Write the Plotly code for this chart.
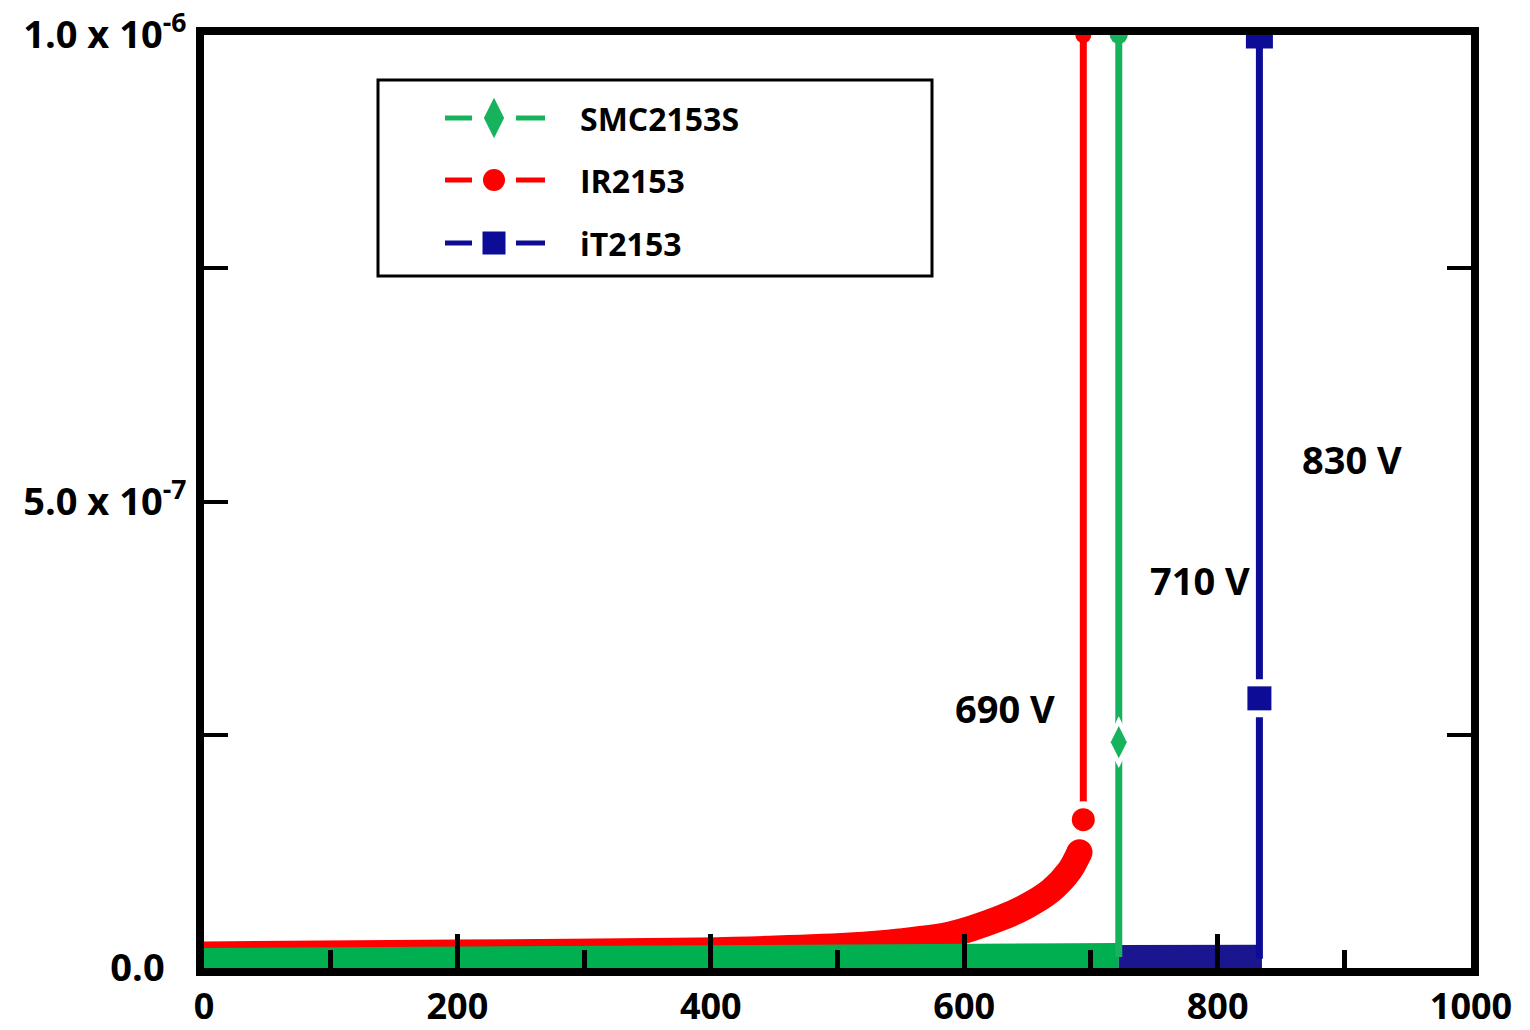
import plotly.graph_objects as go

# ---------------- data ----------------
# IR2153: leakage curve before breakdown
ir_v = [0, 200, 391, 510, 549, 589, 628, 648, 668, 683, 691]
ir_i = [1.45e-8, 1.65e-8, 1.88e-8, 2.41e-8, 2.84e-8, 3.59e-8, 5.31e-8, 6.54e-8, 8.25e-8, 1.04e-7, 1.24e-7]
# IR2153: breakdown branch
ir_bd_v = [694, 694]
ir_bd_i = [1.59e-7, 1.0e-6]

# SMC2153S
smc_v = [0, 200, 400, 600, 722]
smc_i = [0.65e-8, 0.8e-8, 0.96e-8, 1.1e-8, 1.18e-8]
smc_bd_v = [722, 722, 722]
smc_bd_i = [1.18e-8, 2.42e-7, 1.0e-6]

# iT2153
it_v = [722, 835]
it_i = [0.96e-8, 1.0e-8]
it_bd_v = [833, 833, 833]
it_bd_i = [1.0e-8, 2.89e-7, 1.0e-6]

series_names = ["SMC2153S", "IR2153", "iT2153"]
breakdown_labels = ["690 V", "710 V", "830 V"]

x_tickvals = [0, 200, 400, 600, 800, 1000]
x_ticktext = ["0", "200", "400", "600", "800", "1000"]
y_tickvals = [0, 5e-7, 1e-6]
y_ticktext = ["0.0\u2007", "5.0 x 10<sup>-7</sup>", "1.0 x 10<sup>-6</sup>"]
y_minor_tickvals = [2.5e-7, 7.5e-7]

# ---------------- style / layout constants ----------------
W, H = 1530, 1030
ML, MR, MT, MB = 204, 59, 35, 62
RED = "#ff0000"
GREEN = "#00b050"
GREEN_V = "#16b25c"
BLUE = "#0c0c96"
BLUE_BAND = "#1a1690"
FONT = "Open Sans"

label_pos = [(632, 2.79e-7), (786, 4.16e-7), (906, 5.46e-7)]

fig = go.Figure()

def skip(**kw):
    kw.setdefault("showlegend", False)
    kw.setdefault("hoverinfo", "skip")
    return kw

# bands (thick leakage traces)
fig.add_trace(go.Scatter(**skip(
    x=ir_v, y=ir_i, mode="lines",
    line=dict(color=RED, width=26, shape="spline", smoothing=0.8))))
fig.add_trace(go.Scatter(**skip(
    x=ir_v[-1:], y=ir_i[-1:], mode="markers",
    marker=dict(color=RED, size=26, opacity=1, line=dict(width=0)))))
fig.add_trace(go.Scatter(**skip(
    x=smc_v, y=smc_i, mode="lines",
    line=dict(color=GREEN, width=28))))
fig.add_trace(go.Scatter(**skip(
    x=it_v, y=it_i, mode="lines",
    line=dict(color=BLUE_BAND, width=28))))

# breakdown branches: line, then white halo, then marker
branches = [
    (ir_bd_v, ir_bd_i, RED, "circle", 23, 37, 16, 0),
    (smc_bd_v, smc_bd_i, GREEN_V, "diamond-tall", 23, 37, 18, 1),
    (it_bd_v, it_bd_i, BLUE, "square", 24, 38, 27, 1),
]
for bx, by, col, sym, msize, hsize, tsize, k in branches:
    fig.add_trace(go.Scatter(**skip(x=bx, y=by, mode="lines", line=dict(color=col, width=7))))
    fig.add_trace(go.Scatter(**skip(
        x=[bx[k]], y=[by[k]], mode="markers",
        marker=dict(color="white", symbol=sym, size=hsize, opacity=1, line=dict(width=0)))))
    fig.add_trace(go.Scatter(**skip(
        x=[bx[k]], y=[by[k]], mode="markers",
        marker=dict(color=col, symbol=sym, size=msize, opacity=1, line=dict(width=0)))))
    fig.add_trace(go.Scatter(**skip(
        x=[bx[-1]], y=[by[-1]], mode="markers",
        marker=dict(color=col, symbol=sym if sym == "square" else "circle", size=tsize,
                    opacity=1, line=dict(width=0)))))

# dummy (invisible) trace so the right-hand tick axis is drawn
fig.add_trace(go.Scatter(**skip(x=[0], y=[0], yaxis="y2", mode="markers",
                                marker=dict(size=1, opacity=0))))

# ---------------- custom legend (pixel overlay axes) ----------------
LEG_X0, LEG_X1, LEG_Y0, LEG_Y1 = 378, 932, 80, 276
legend_rows = [118, 180, 243]
legend_style = [
    dict(color=GREEN_V, symbol="diamond-tall", size=29),
    dict(color=RED, symbol="circle", size=22),
    dict(color=BLUE, symbol="square", size=23),
]
GLYPH_L0, GLYPH_L1, GLYPH_M, GLYPH_R0, GLYPH_R1, TEXT_X = 445, 472, 494, 516, 545, 578
for name, ry, st in zip(series_names, legend_rows, legend_style):
    fig.add_trace(go.Scatter(**skip(
        x=[GLYPH_L0, GLYPH_L1, None, GLYPH_R0, GLYPH_R1], y=[ry, ry, None, ry, ry],
        xaxis="x2", yaxis="y3", mode="lines",
        line=dict(color=st["color"], width=5))))
    fig.add_trace(go.Scatter(**skip(
        x=[GLYPH_M], y=[ry], xaxis="x2", yaxis="y3", mode="markers",
        marker=dict(color=st["color"], symbol=st["symbol"], size=st["size"], opacity=1),
        cliponaxis=False)))
    fig.add_annotation(x=TEXT_X, y=ry, xref="x2", yref="y3", text=name, showarrow=False,
                       xanchor="left", yanchor="middle",
                       font=dict(family=FONT, size=32, color="black", weight="bold"))

fig.add_shape(type="rect", xref="x2", yref="y3", x0=LEG_X0, x1=LEG_X1, y0=LEG_Y0, y1=LEG_Y1,
              line=dict(color="black", width=3), fillcolor="rgba(0,0,0,0)", layer="above")

# breakdown voltage labels
for txt, (lx, ly) in zip(breakdown_labels, label_pos):
    fig.add_annotation(x=lx, y=ly, xref="x", yref="y", text=txt, showarrow=False,
                       xanchor="center", yanchor="middle",
                       font=dict(family=FONT, size=38, color="black", weight="bold"))

xtickfont = dict(family=FONT, size=36, color="black", weight="bold")
ytickfont = dict(family=FONT, size=38, color="black", weight="bold")

fig.update_layout(
    width=W, height=H,
    margin=dict(l=ML, r=MR, t=MT, b=MB, pad=0),
    paper_bgcolor="white", plot_bgcolor="white",
    showlegend=False,
    xaxis=dict(range=[0, 1000], tickvals=x_tickvals, ticktext=x_ticktext,
               ticks="inside", ticklen=34, tickwidth=5, tickcolor="black",
               minor=dict(ticks="inside", ticklen=18, tickwidth=5, tickcolor="black", dtick=100, tick0=0),
               showline=True, linewidth=8, linecolor="black", mirror=True,
               showgrid=False, zeroline=False, tickfont=xtickfont, automargin=False,
               ticklabelstandoff=0),
    yaxis=dict(range=[0, 1e-6], tickvals=y_tickvals, ticktext=y_ticktext,
               ticks="inside", ticklen=24, tickwidth=4, tickcolor="black",
               minor=dict(ticks="inside", ticklen=24, tickwidth=4, tickcolor="black",
                          tickvals=y_minor_tickvals),
               showline=True, linewidth=8, linecolor="black", mirror=True,
               showgrid=False, zeroline=False, tickfont=ytickfont, automargin=False,
               ticklabelstandoff=2),
    yaxis2=dict(range=[0, 1e-6], overlaying="y", side="right", anchor="x",
                tickvals=y_minor_tickvals, ticks="inside", ticklen=24, tickwidth=4, tickcolor="black",
                showticklabels=False, showgrid=False, zeroline=False, showline=False),
    xaxis2=dict(range=[ML, W - MR], overlaying="x", visible=False, anchor="y3"),
    yaxis3=dict(range=[H - MB, MT], overlaying="y", visible=False, anchor="x2"),
)

fig.write_html("out.html", config={"displayModeBar": False},
               post_script="document.body.style.margin='0px';document.body.style.overflow='hidden';")
